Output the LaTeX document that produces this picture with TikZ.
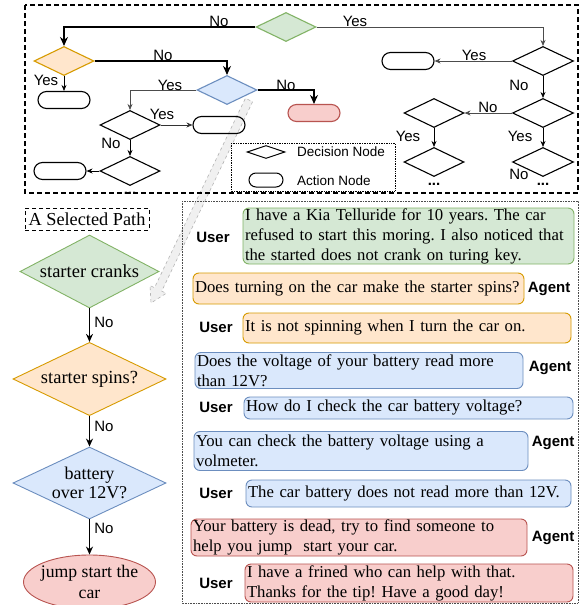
\documentclass[tikz,border=0pt]{standalone}
\usepackage{fontspec}
\setmainfont{Liberation Serif}
\newfontfamily\arial{Liberation Sans}
\usetikzlibrary{shapes.geometric,arrows.meta}
\definecolor{gfill}{HTML}{D5E8D4}\definecolor{gline}{HTML}{82B366}
\definecolor{ofill}{HTML}{FFE6CC}\definecolor{oline}{HTML}{D79B00}
\definecolor{bfill}{HTML}{DAE8FC}\definecolor{bline}{HTML}{6C8EBF}
\definecolor{rfill}{HTML}{F8CECC}\definecolor{rline}{HTML}{B85450}
\frenchspacing
\newcommand{\myline}[1]{\mbox{#1}}
\begin{document}
\begin{tikzpicture}[x=1pt,y=-1pt,
  dec/.style={diamond, draw, line width=1.1pt, inner sep=0pt, minimum width=60pt, minimum height=29pt},
  act/.style={rectangle, rounded corners=8.5pt, draw, line width=1.1pt, minimum width=52pt, minimum height=17pt, inner sep=0pt},
  lab/.style={font=\arial\fontsize{15}{15}\selectfont, inner sep=0pt},
  dots/.style={font=\arial\bfseries\fontsize{15}{15}\selectfont, inner sep=0pt, anchor=base},
  thinar/.style={line width=0.8pt, -{Stealth[length=6pt,width=5pt]}},
  thickar/.style={line width=1.8pt, -{Stealth[length=9pt,width=8pt]}},
  pathar/.style={line width=1.2pt, -{Stealth[length=8pt,width=7pt]}},
  bdec/.style={diamond, draw, line width=0.9pt, inner sep=-10pt, minimum width=153pt, minimum height=72pt, align=center, font=\fontsize{18.5}{20}\selectfont},
  bub/.style={rectangle, rounded corners=6pt, draw, line width=0.9pt, inner xsep=2pt, inner ysep=0pt, align=left, font=\fontsize{16.7}{20}\selectfont},
  who/.style={font=\arial\bfseries\fontsize{15}{15}\selectfont, inner sep=0pt},
]
\useasboundingbox (0,0) rectangle (582,605);
\fill[white] (0,0) rectangle (582,605);

% grey pointer arrow
\draw[gray!60, dashed, line width=0.6pt, fill=gray!12]
  (252.6,101.7) -- (161.7,291.1) -- (166.2,293.3) -- (151,303) -- (150.0,285.5) -- (154.5,287.7) -- (245.4,98.3) -- cycle;

% top frame
\draw[dashed, dash pattern=on 5pt off 3pt, line width=1.2pt] (25,5) rectangle (578,193);

% top tree nodes
\node[dec, fill=gfill, draw=gline] (g) at (286,27) {};
\node[dec, fill=ofill, draw=oline] (o) at (64,61) {};
\node[act] (oa) at (64,100) {};
\node[dec, fill=bfill, draw=bline] (b) at (227,90) {};
\node[act, fill=rfill, draw=rline] (ra) at (314,113) {};
\node[dec] (d1) at (130,125) {};
\node[act] (a1) at (219,125) {};
\node[dec] (d2) at (130,171) {};
\node[act] (a2) at (60,171) {};
\node[dec, minimum width=61pt] (r1) at (543,61) {};
\node[act] (ar1) at (408,61) {};
\node[dec, minimum width=61pt] (r2) at (543,113) {};
\node[dec] (r3) at (434,113) {};
\node[dec] (r4) at (434,162) {};
\node[dec, minimum width=61pt] (r5) at (543,162) {};

\draw[thickar] (g.west) -| (o.north);
\draw[thickar] (o.east) -| (b.north);
\draw[thickar] (b.east) -| (ra.north);
\draw[thinar] (o.south) -- (oa.north);
\draw[thinar, black!70] (b.west) -| (d1.north);
\draw[thinar, black!80] (d1.east) -- (a1.west);
\draw[thinar] (d1.south) -- (d2.north);
\draw[thinar] (d2.west) -- (a2.east);
\draw[thinar, black!70] (g.east) -| (r1.north);
\draw[thinar, black!70] (r1.west) -- (ar1.east);
\draw[thinar] (r1.south) -- (r2.north);
\draw[thinar, black!70] (r2.west) -- (r3.east);
\draw[thinar] (r3.south) -- (r4.north);
\draw[thinar] (r2.south) -- (r5.north);

\node[lab] (l1) at (219,21) {No};
\node[lab] (l2) at (163,55) {No};
\node[lab] (l3) at (46,80) {Yes};
\node[lab] (l4) at (170,85) {Yes};
\node[lab] (l5) at (286,85) {No};
\node[lab] (l6) at (162,114) {Yes};
\node[lab] (l7) at (111,143) {No};
\node[lab] (l8) at (355,21) {Yes};
\node[lab] (l9) at (474,55) {Yes};
\node[lab] (l10) at (519,85) {No};
\node[lab] (l11) at (488,107) {No};
\node[lab] (l12) at (408,136) {Yes};
\node[lab] (l13) at (520,136) {Yes};
\node[lab] (l14) at (519,174) {No};
\node[dots] (e1) at (434,185) {...};
\node[dots] (e2) at (543,185) {...};
\node[dots] (e3) at (130,194) {...};

% legend
\draw[densely dotted, line width=0.7pt] (231,143) rectangle (395,191);
\node[diamond, draw, line width=1pt, inner sep=0pt, minimum width=38pt, minimum height=13pt] (ld) at (266,152) {};
\node[rectangle, rounded corners=7pt, draw, line width=1pt, inner sep=0pt, minimum width=34pt, minimum height=14pt] (lo) at (266,180) {};
\node[font=\arial\fontsize{13.5}{14}\selectfont, anchor=west, inner sep=0pt] (lt1) at (297,152) {Decision Node};
\node[font=\arial\fontsize{13.5}{14}\selectfont, anchor=west, inner sep=0pt] (lt2) at (297,181) {Action Node};

% selected path
\node[draw, dashed, dash pattern=on 4pt off 3pt, line width=1pt, minimum width=124pt, minimum height=22pt, inner sep=0pt, font=\fontsize{18.3}{20}\selectfont] (sp) at (87,219) {A Selected Path};
\node[bdec, fill=gfill, draw=gline, minimum width=139pt, minimum height=73pt] (pg) at (89.5,271.5) {starter cranks};
\node[bdec, fill=ofill, draw=oline] (po) at (89.5,379) {starter spins?};
\node[bdec, fill=bfill, draw=bline, font=\fontsize{18}{19}\selectfont] (pb) at (89.5,483) {battery\\over 12V?};
\node[ellipse, draw=rline, fill=rfill, line width=0.9pt, inner sep=-2pt, minimum width=125pt, minimum height=54pt, align=center, font=\fontsize{17.7}{21}\selectfont] (pr) at (89.5,582) {jump start the\\car};
\draw[pathar] (pg.south) -- (po.north);
\draw[pathar] (po.south) -- (pb.north);
\draw[pathar] (pb.south) -- (pr.north);
\node[lab] (n1) at (104,322) {No};
\node[lab] (n2) at (104,426) {No};
\node[lab] (n3) at (104,528) {No};

% dialogue
\draw[densely dotted, line width=0.6pt, black!70] (182,201) rectangle (578,603);
\node[bub, fill=gfill, draw=gline, minimum height=56pt, text width=327pt] (m1) at (408.5,236) {\myline{I have a Kia Telluride for 10 years. The car}\\\myline{refused to start this moring. I also noticed that}\\\myline{the started does not crank on turing key.}};
\node[bub, fill=ofill, draw=oline, minimum height=31pt, text width=327pt] (m2) at (358.5,288.5) {\myline{Does turning on the car make the starter spins?}};
\node[bub, fill=ofill, draw=oline, minimum height=30pt, text width=324pt] (m3) at (407,328) {\myline{It is not spinning when I turn the car on.}};
\node[bub, fill=bfill, draw=bline, minimum height=36pt, text width=324pt] (m4) at (359,370.5) {\myline{Does the voltage of your battery read more}\\\myline{than 12V?}};
\node[bub, fill=bfill, draw=bline, minimum height=22pt, text width=325pt] (m5) at (408.5,408) {\myline{How do I check the car battery voltage?}};
\node[bub, fill=bfill, draw=bline, minimum height=39pt, text width=330pt] (m6) at (361,451) {\myline{You can check the battery voltage using a}\\\myline{volmeter.}};
\node[bub, fill=bfill, draw=bline, minimum height=27pt, text width=321pt] (m7) at (408.5,493.5) {\myline{The car battery does not read more than 12V.}};
\node[bub, fill=rfill, draw=rline, minimum height=37pt, text width=332pt] (m8) at (359,537.5) {\myline{Your battery is dead, try to find someone to}\\\myline{help you jump\ \ start your car.}};
\node[bub, fill=rfill, draw=rline, minimum height=38pt, text width=324pt] (m9) at (409,583) {\myline{I have a frined who can help with that.}\\\myline{Thanks for the tip! Have a good day!}};

\node[who] (u1) at (213,237) {User};
\node[who] (g2) at (549,289) {Agent};
\node[who] (u3) at (216,327) {User};
\node[who] (g4) at (550,368) {Agent};
\node[who] (u5) at (216,407) {User};
\node[who] (g6) at (553,443) {Agent};
\node[who] (u7) at (216,493) {User};
\node[who] (g8) at (553,538) {Agent};
\node[who] (u9) at (216,583) {User};
\end{tikzpicture}
\end{document}
